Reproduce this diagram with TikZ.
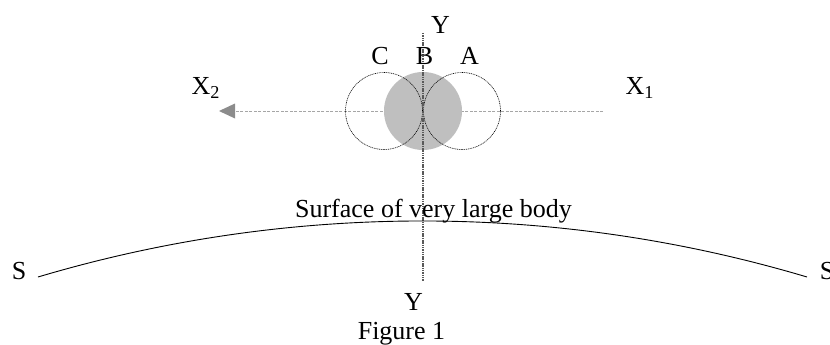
\documentclass[tikz,border=0pt]{standalone}
\usepackage{fontspec}
\setmainfont{Liberation Serif}
\usetikzlibrary{arrows.meta}
\begin{document}
\begin{tikzpicture}[x=1pt,y=-1pt,
  lbl/.style={inner sep=0pt,anchor=base,font=\fontsize{26}{30}\selectfont},
  ring/.style={circle,inner sep=0pt,minimum size=77pt,draw=black,line width=0.6pt,dash pattern=on 1pt off 0.8pt},
  ball/.style={circle,inner sep=0pt,minimum size=78pt,fill=black!25},
  axisy/.style={draw=black!65,line width=1.1pt,dash pattern=on 1.5pt off 0.8pt},
  axisx/.style={draw=black!35,line width=0.6pt,dash pattern=on 3pt off 1.5pt},
  surf/.style={draw=black,line width=0.9pt}]
\useasboundingbox (0,0) rectangle (830,345);
% horizontal axis
\coordinate (xr) at (603,111);
\coordinate (xl) at (219,111);
\draw[axisx,-{Triangle[length=16pt,width=15pt,fill=black!45,line width=0pt]}] (xr) -- (xl);
% spheres
\node[ball] (cB) at (423,111) {};
\node[ring] (cC) at (384,111) {};
\node[ring] (cA) at (462,111) {};
% vertical axis
\coordinate (yt) at (423,33);
\coordinate (yb) at (423,281);
\draw[axisy] (yt) -- (yb);
% surface
\coordinate (sl) at (38,277);
\coordinate (sr) at (807,277);
\draw[surf] (sl) .. controls (289,202.3) and (556,202.3) .. (sr);
% labels
\node[lbl] (lYt) at (440.5,34) {Y};
\node[lbl] (lC) at (380,65) {C};
\node[lbl] (lB) at (424.5,65) {B};
\node[lbl] (lA) at (469.5,65) {A};
\node[lbl,anchor=base west] (lX2) at (191.5,95) {X\textsubscript{2}};
\node[lbl,anchor=base west] (lX1) at (625.5,95) {X\textsubscript{1}};
\node[lbl] (lsurf) at (433.5,217) {Surface of very large body};
\node[lbl] (lSl) at (19,279) {S};
\node[lbl] (lSr) at (827,279) {S};
\node[lbl] (lYb) at (413.5,310) {Y};
\node[lbl] (lfig) at (401.5,339) {Figure 1};
\end{tikzpicture}
\end{document}
